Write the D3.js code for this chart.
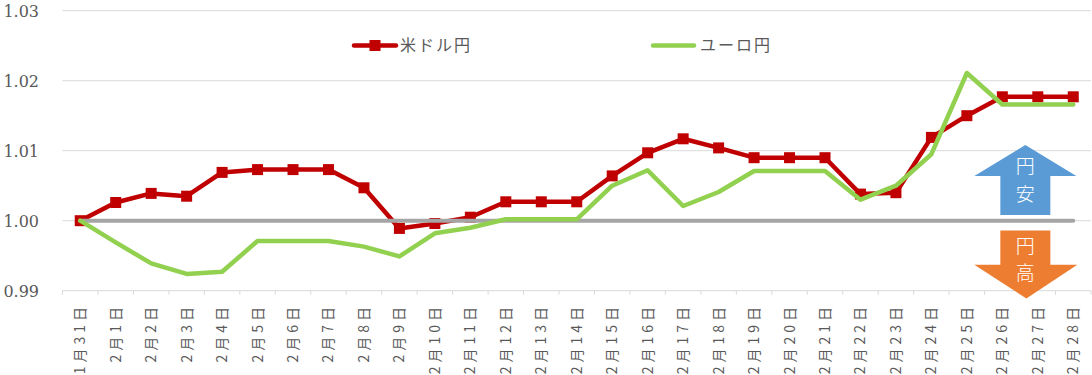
<!DOCTYPE html>
<html>
<head>
<meta charset="utf-8">
<script src="https://cdn.jsdelivr.net/npm/d3@7"></script>
<style>
body { margin: 0; background: #ffffff; }
</style>
</head>
<body>
<svg width="1092" height="375"></svg>
<script>
var dates = ["1月31日", "2月1日", "2月2日", "2月3日", "2月4日", "2月5日", "2月6日", "2月7日",
	"2月8日", "2月9日", "2月10日", "2月11日", "2月12日", "2月13日", "2月14日", "2月15日",
	"2月16日", "2月17日", "2月18日", "2月19日", "2月20日", "2月21日", "2月22日", "2月23日",
	"2月24日", "2月25日", "2月26日", "2月27日", "2月28日"];

var usdjpy = [1.0000, 1.0026, 1.0039, 1.0035, 1.0069, 1.0073, 1.0073, 1.0073,
	1.0047, 0.9989, 0.9996, 1.0005, 1.0027, 1.0027, 1.0027, 1.0064,
	1.0097, 1.0117, 1.0104, 1.0090, 1.0090, 1.0090, 1.0038, 1.0040,
	1.0119, 1.0150, 1.0177, 1.0177, 1.0177];

var eurjpy = [1.0000, 0.9969, 0.9939, 0.9924, 0.9927, 0.9971, 0.9971, 0.9971,
	0.9963, 0.9949, 0.9982, 0.9990, 1.0002, 1.0002, 1.0002, 1.0050,
	1.0072, 1.0021, 1.0041, 1.0071, 1.0071, 1.0071, 1.0030, 1.0050,
	1.0095, 1.0211, 1.0166, 1.0166, 1.0166];

var baseline = dates.map(function () { return 1.00; });

var yTicks = [0.99, 1.00, 1.01, 1.02, 1.03];

var svg = d3.select("svg");

var x = d3.scaleBand()
	.domain(dates)
	.range([62.5, 1091]);

var y = d3.scaleLinear()
	.domain([0.99, 1.03])
	.range([290.7, 10.7]);

function cx(i) { return x(dates[i]) + x.bandwidth() / 2; }

///////////////////////////////////////////////////

// gridlines
svg.append("g")
	.selectAll("line")
	.data(yTicks)
	.enter()
	.append("line")
	.attr("x1", 62.5)
	.attr("x2", 1091)
	.attr("y1", function (d) { return y(d); })
	.attr("y2", function (d) { return y(d); })
	.style("stroke", "#d9d9d9")
	.style("stroke-width", 1);

// y labels
svg.append("g")
	.selectAll("text")
	.data(yTicks)
	.enter()
	.append("text")
	.attr("x", 39)
	.attr("y", function (d) { return y(d) + 6; })
	.attr("text-anchor", "end")
	.style("font-family", "'DejaVu Serif', 'Liberation Serif', serif")
	.style("font-size", "16px")
	.style("fill", "#595959")
	.text(function (d) { return d.toFixed(2); });

// x ticks
svg.append("g")
	.selectAll("line")
	.data(d3.range(dates.length + 1))
	.enter()
	.append("line")
	.attr("x1", function (i) { return 62.5 + i * x.step(); })
	.attr("x2", function (i) { return 62.5 + i * x.step(); })
	.attr("y1", y(0.99))
	.attr("y2", y(0.99) + 4)
	.style("stroke", "#d9d9d9")
	.style("stroke-width", 1);

// x labels
svg.append("g")
	.selectAll("text")
	.data(dates)
	.enter()
	.append("text")
	.attr("transform", function (d, i) { return "translate(" + (cx(i) + 5) + ",303) rotate(-90)"; })
	.attr("text-anchor", "end")
	.style("font-family", "'Noto Sans CJK JP', sans-serif")
	.style("font-size", "14px")
	.style("letter-spacing", "4px")
	.style("fill", "#595959")
	.text(function (d) { return d; });

///////////////////////////////////////////////////

var line = d3.line()
	.x(function (d, i) { return cx(i); })
	.y(function (d) { return y(d); });

svg.append("path")
	.datum(usdjpy)
	.attr("d", line)
	.style("fill", "none")
	.style("stroke", "#c00000")
	.style("stroke-width", 4.5)
	.style("stroke-linejoin", "round")
	.style("stroke-linecap", "round");

svg.append("g")
	.selectAll("rect")
	.data(usdjpy)
	.enter()
	.append("rect")
	.attr("x", function (d, i) { return cx(i) - 5.5; })
	.attr("y", function (d) { return y(d) - 5.5; })
	.attr("width", 11)
	.attr("height", 11)
	.style("fill", "#c00000");

svg.append("path")
	.datum(baseline)
	.attr("d", line)
	.style("fill", "none")
	.style("stroke", "#a5a5a5")
	.style("stroke-width", 4)
	.style("stroke-linecap", "round");

svg.append("path")
	.datum(eurjpy)
	.attr("d", line)
	.style("fill", "none")
	.style("stroke", "#92d050")
	.style("stroke-width", 4.5)
	.style("stroke-linejoin", "round")
	.style("stroke-linecap", "round");

///////////////////////////////////////////////////

// legend
var legend = svg.append("g");

legend.append("line")
	.attr("x1", 354).attr("x2", 396)
	.attr("y1", 45.5).attr("y2", 45.5)
	.style("stroke", "#c00000")
	.style("stroke-width", 4.5)
	.style("stroke-linecap", "round");
legend.append("rect")
	.attr("x", 369.5).attr("y", 40)
	.attr("width", 11).attr("height", 11)
	.style("fill", "#c00000");
legend.append("text")
	.attr("x", 400).attr("y", 51)
	.style("font-family", "'Noto Sans CJK JP', sans-serif")
	.style("font-size", "16px")
	.style("letter-spacing", "2px")
	.style("fill", "#595959")
	.text("米ドル円");

legend.append("line")
	.attr("x1", 653).attr("x2", 694)
	.attr("y1", 45.5).attr("y2", 45.5)
	.style("stroke", "#92d050")
	.style("stroke-width", 4.5)
	.style("stroke-linecap", "round");
legend.append("text")
	.attr("x", 700).attr("y", 51)
	.style("font-family", "'Noto Sans CJK JP', sans-serif")
	.style("font-size", "16px")
	.style("letter-spacing", "2px")
	.style("fill", "#595959")
	.text("ユーロ円");

///////////////////////////////////////////////////

// arrows
var ax = cx(26) + 23;   // arrow centre, between 2/26 and 2/27

var upArrow = svg.append("g");
upArrow.append("path")
	.attr("d", "M" + ax + "," + y(1.0108) +
		" L" + (ax + 51) + "," + y(1.0064) +
		" L" + (ax + 25) + "," + y(1.0064) +
		" L" + (ax + 25) + "," + y(1.0008) +
		" L" + (ax - 25) + "," + y(1.0008) +
		" L" + (ax - 25) + "," + y(1.0064) +
		" L" + (ax - 51) + "," + y(1.0064) + " Z")
	.style("fill", "#5b9bd5");
upArrow.append("text")
	.attr("x", ax).attr("y", y(1.0064) - 3)
	.attr("text-anchor", "middle")
	.style("font-family", "'Noto Sans CJK JP', sans-serif")
	.style("font-size", "19px")
	.style("font-weight", "300")
	.style("fill", "#ffffff")
	.text("円");
upArrow.append("text")
	.attr("x", ax).attr("y", y(1.0064) + 25)
	.attr("text-anchor", "middle")
	.style("font-family", "'Noto Sans CJK JP', sans-serif")
	.style("font-size", "19px")
	.style("font-weight", "300")
	.style("fill", "#ffffff")
	.text("安");

var downArrow = svg.append("g");
downArrow.append("path")
	.attr("d", "M" + (ax - 25) + "," + y(0.9986) +
		" L" + (ax + 25) + "," + y(0.9986) +
		" L" + (ax + 25) + "," + y(0.9937) +
		" L" + (ax + 52) + "," + y(0.9937) +
		" L" + (ax + 1) + "," + y(0.9889) +
		" L" + (ax - 51) + "," + y(0.9937) +
		" L" + (ax - 25) + "," + y(0.9937) + " Z")
	.style("fill", "#ed7d31");
downArrow.append("text")
	.attr("x", ax).attr("y", y(0.9986) + 22)
	.attr("text-anchor", "middle")
	.style("font-family", "'Noto Sans CJK JP', sans-serif")
	.style("font-size", "19px")
	.style("font-weight", "300")
	.style("fill", "#ffffff")
	.text("円");
downArrow.append("text")
	.attr("x", ax).attr("y", y(0.9986) + 49)
	.attr("text-anchor", "middle")
	.style("font-family", "'Noto Sans CJK JP', sans-serif")
	.style("font-size", "19px")
	.style("font-weight", "300")
	.style("fill", "#ffffff")
	.text("高");
</script>
</body>
</html>
